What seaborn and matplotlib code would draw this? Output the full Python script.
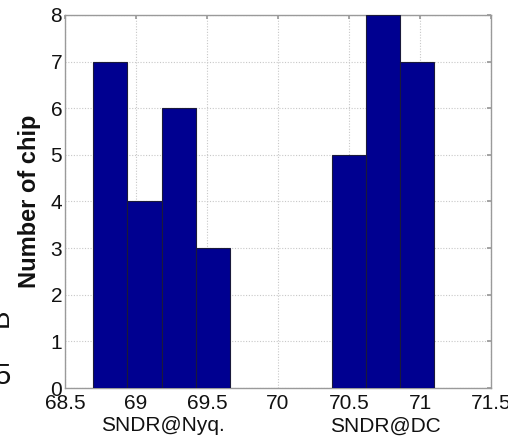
import numpy as np
import pandas as pd
import matplotlib
matplotlib.use("Agg")
import matplotlib.pyplot as plt
import seaborn as sns

# Histogram bins (centres, MATLAB hist style) and chip counts
bin_width = 0.24
nyq_centers = [68.82, 69.06, 69.30, 69.54]
nyq_counts = [7, 4, 6, 3]
dc_centers = [70.50, 70.74, 70.98]
dc_counts = [5, 8, 7]

x_ticks = [68.5, 69, 69.5, 70, 70.5, 71, 71.5]
x_tick_labels = ["68.5", "69", "69.5", "70", "70.5", "71", "71.5"]
y_ticks = [0, 1, 2, 3, 4, 5, 6, 7, 8]

sns.set_theme(style="white")
plt.rcParams["font.family"] = ["Liberation Sans", "DejaVu Sans"]

W, H = 508, 436
fig = plt.figure(figsize=(W / 100, H / 100), dpi=100)
ax = fig.add_axes([65 / W, 1 - 388 / H, 426 / W, 373 / H])

bar_color = "#000090"
for centers, counts in ((nyq_centers, nyq_counts), (dc_centers, dc_counts)):
    df = pd.DataFrame({"sndr": centers, "count": counts})
    c = np.asarray(centers)
    edges = np.append(c - bin_width / 2, c[-1] + bin_width / 2)
    sns.histplot(data=df, x="sndr", weights="count", bins=list(edges), ax=ax,
                 color=bar_color, alpha=1.0, edgecolor="#1a1a3a",
                 linewidth=0.8, zorder=3)

ax.set_xlim(68.5, 71.5)
ax.set_ylim(0, 8)
ax.set_xticks(x_ticks)
ax.set_xticklabels(x_tick_labels)
ax.set_yticks(y_ticks)
ax.set_xlabel("")
ax.set_ylabel("")

ax.grid(True, linestyle=(0, (1, 1.5)), color="#c8c8c8", linewidth=0.8, zorder=0)
ax.set_axisbelow(True)
for s in ax.spines.values():
    s.set_color("#9a9a9a")
    s.set_linewidth(1.0)

ax.tick_params(axis="both", direction="in", length=3, color="#9a9a9a",
               labelsize=15, labelcolor="#111111", top=True, right=True)
ax.tick_params(axis="x", pad=4)
ax.tick_params(axis="y", pad=2)

ax.text(-0.083, 0.5, "Number of chip", transform=ax.transAxes, rotation=90,
        ha="center", va="center", fontsize=17, fontweight="bold",
        color="#111111")

ax.text(69.19, -0.116, "SNDR@Nyq.", transform=ax.get_xaxis_transform(),
        ha="center", va="baseline", fontsize=15, color="#111111", clip_on=False)
ax.text(70.76, -0.116, "SNDR@DC", transform=ax.get_xaxis_transform(),
        ha="center", va="baseline", fontsize=15, color="#111111", clip_on=False)

# Pieces of the neighbouring panel's labels along the left edge
fig.text(14 / W, 1 - 318 / H, "B", rotation=90, ha="right", va="center",
         fontsize=20, color="#111111")
fig.text(-5 / W, 1 - 376 / H, "5", ha="left", va="center",
         fontsize=21, color="#111111")

fig.savefig("out.png", dpi=100)
